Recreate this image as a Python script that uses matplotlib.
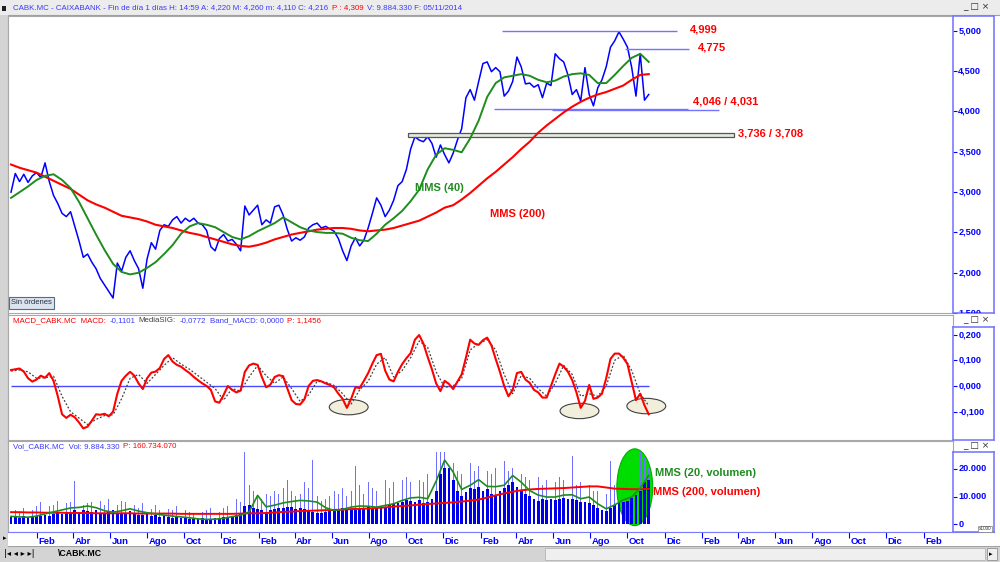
"""CaixaBank (CABK.MC) daily chart: price with MMS(40)/MMS(200), MACD and volume panels."""

import matplotlib
matplotlib.use("Agg")
import matplotlib.pyplot as plt
import matplotlib.dates as mdates
import matplotlib.transforms as mtransforms
from matplotlib.patches import Ellipse, Rectangle
import pandas as pd

plt.rcParams["font.family"] = ["Liberation Sans", "DejaVu Sans"]

LAST = "2014-11-05"

# weekly closes (EUR), Dec 2011 -> Nov 2014
price = [
    3.02, 3.25, 3.15, 3.24, 3.14, 3.22, 3.26, 3.20, 3.38, 3.15,
    2.98, 2.88, 2.76, 2.72, 2.78, 2.60, 2.42, 2.22, 2.26, 2.16,
    2.08, 1.96, 1.88, 1.80, 1.72, 2.15, 2.05, 2.22, 2.30, 2.18,
    2.08, 1.84, 2.20, 2.40, 2.32, 2.55, 2.62, 2.60, 2.68, 2.72,
    2.64, 2.70, 2.66, 2.70, 2.64, 2.62, 2.55, 2.35, 2.30, 2.45,
    2.50, 2.42, 2.44, 2.38, 2.30, 2.85, 2.74, 2.80, 2.86, 2.62,
    2.68, 2.64, 2.84, 2.86, 2.74, 2.56, 2.42, 2.46, 2.43, 2.47,
    2.58, 2.62, 2.64, 2.58, 2.60, 2.57, 2.54, 2.45, 2.30, 2.18,
    2.36, 2.46, 2.36, 2.43, 2.58, 2.76, 2.95, 2.86, 2.72, 2.80,
    2.92, 3.10, 3.15, 3.30, 3.55, 3.70, 3.66, 3.64, 3.70, 3.62,
    3.45, 3.60, 3.48, 3.38, 3.50, 3.66, 3.80, 4.18, 4.28, 4.15,
    4.38, 4.60, 4.62, 4.50, 4.55, 4.50, 4.20, 4.26, 4.38, 4.68,
    4.56, 4.35, 4.36, 4.31, 4.34, 4.18, 4.36, 4.33, 4.72, 4.66,
    4.62, 4.46, 4.22, 4.28, 4.14, 4.55, 4.22, 4.08, 4.30, 4.40,
    4.56, 4.80, 4.88, 4.99, 4.90, 4.80, 4.55, 4.20, 4.72, 4.15,
    4.22,
]
# moving averages, every two weeks
mms40 = [
    2.95, 3.02, 3.09, 3.17, 3.22, 3.24, 3.17, 3.07, 2.90, 2.70,
    2.50, 2.31, 2.14, 2.04, 2.01, 2.03, 2.09, 2.16, 2.26, 2.37,
    2.51, 2.60, 2.64, 2.62, 2.59, 2.53, 2.47, 2.44, 2.48, 2.54,
    2.59, 2.64, 2.71, 2.65, 2.59, 2.55, 2.53, 2.52, 2.52, 2.51,
    2.46, 2.43, 2.42, 2.51, 2.62, 2.70, 2.79, 2.91, 3.05, 3.30,
    3.48, 3.56, 3.54, 3.51, 3.68, 3.90, 4.19, 4.36, 4.43, 4.45,
    4.47, 4.45, 4.40, 4.37, 4.39, 4.44, 4.47, 4.48, 4.46, 4.36,
    4.36, 4.46, 4.57, 4.67, 4.72, 4.62,
]
mms200 = [
    3.36, 3.32, 3.29, 3.26, 3.21, 3.16, 3.11, 3.06, 2.99, 2.92,
    2.87, 2.83, 2.78, 2.73, 2.71, 2.69, 2.66, 2.62, 2.60, 2.58,
    2.55, 2.52, 2.50, 2.47, 2.44, 2.41, 2.38, 2.36, 2.35, 2.37,
    2.40, 2.44, 2.47, 2.50, 2.52, 2.54, 2.56, 2.57, 2.58, 2.58,
    2.57, 2.55, 2.54, 2.55, 2.56, 2.58, 2.61, 2.64, 2.67, 2.72,
    2.77, 2.83, 2.86, 2.93, 3.01, 3.10, 3.19, 3.27, 3.36, 3.45,
    3.55, 3.64, 3.75, 3.84, 3.92, 4.00, 4.07, 4.13, 4.18, 4.22,
    4.25, 4.29, 4.33, 4.40, 4.46, 4.47,
]
# support / resistance levels and their drawn extent
levels = [4.999, 4.775, 4.046, 4.031]
level_from = ["2014-03-09", "2014-09-27", "2014-02-24", "2014-05-29"]
level_to = ["2014-12-21", "2015-01-11", "2015-01-08", "2015-03-01"]
band = (3.708, 3.736)          # labelled support zone
band_box = (3.692, 3.752)      # as boxed on the chart
band_span = ("2013-10-05", "2015-03-26")

# MACD weekly, signal every two weeks
macd = [
    0.062, 0.065, 0.068, 0.056, 0.030, 0.017, 0.025, 0.040, 0.032, 0.050,
    0.020, -0.040, -0.110, -0.124, -0.112, -0.122, -0.142, -0.165, -0.158, -0.135,
    -0.110, -0.112, -0.108, -0.118, -0.100, -0.030, 0.020, 0.040, 0.055, 0.040,
    0.010, -0.012, 0.030, 0.052, 0.056, 0.070, 0.105, 0.120, 0.095, 0.082,
    0.075, 0.062, 0.050, 0.035, 0.022, 0.010, 0.000, -0.015, -0.060, -0.065,
    -0.035, 0.000, -0.015, -0.025, -0.018, 0.055, 0.080, 0.087, 0.082, 0.035,
    -0.005, 0.005, 0.035, 0.042, 0.038, -0.010, -0.055, -0.070, -0.072, -0.052,
    0.000, 0.020, 0.023, 0.018, 0.010, 0.004, -0.006, -0.030, -0.050, -0.085,
    -0.050, -0.005, -0.008, 0.020, 0.050, 0.087, 0.120, 0.125, 0.060, 0.025,
    0.018, 0.055, 0.085, 0.108, 0.128, 0.180, 0.198, 0.165, 0.113, 0.065,
    0.010, -0.020, 0.020, 0.008, -0.012, 0.017, 0.045, 0.110, 0.180, 0.165,
    0.160, 0.178, 0.188, 0.158, 0.105, 0.055, 0.000, -0.040, -0.015, 0.050,
    0.055, 0.025, 0.012, -0.015, -0.025, -0.045, -0.045, 0.000, 0.045, 0.087,
    0.075, 0.055, 0.023, -0.025, -0.085, -0.058, 0.004, -0.050, -0.045, -0.030,
    0.030, 0.105, 0.126, 0.126, 0.110, 0.085, 0.015, -0.055, -0.030, -0.075,
    -0.110,
]
media_sig = [
    0.058, 0.062, 0.055, 0.030, 0.032, 0.038, -0.040, -0.100, -0.125, -0.150,
    -0.130, -0.115, -0.112, -0.050, 0.030, 0.045, 0.010, 0.045, 0.080, 0.110,
    0.085, 0.065, 0.040, 0.015, -0.010, -0.055, -0.010, -0.020, 0.035, 0.080,
    0.040, 0.010, 0.035, -0.010, -0.060, -0.035, 0.018, 0.015, 0.002, -0.030,
    -0.070, -0.015, 0.018, 0.085, 0.110, 0.035, 0.060, 0.110, 0.175, 0.150,
    0.055, -0.005, 0.000, 0.030, 0.140, 0.165, 0.180, 0.140, 0.045, -0.030,
    0.040, 0.030, -0.010, -0.040, 0.010, 0.080, 0.045, -0.040, -0.030, -0.040,
    0.000, 0.100, 0.120, 0.060, -0.030, -0.077,
]
macd_marks = ["2013-06-29", "2014-07-14", "2014-11-01"]
macd_marks_y = [-0.082, -0.097, -0.078]

# volume (thousands of shares): typical weekly level and weekly peak day
vol_base = [
    2500, 2800, 2300, 3000, 2600, 2800, 3200, 2900, 3500, 3000,
    3800, 4200, 3800, 4500, 4000, 5000, 4600, 5200, 4800, 4400,
    5000, 4200, 3800, 4500, 5200, 4200, 3600, 4000, 4800, 3800,
    3500, 3400, 3800, 3000, 3300, 2800, 3000, 2600, 2400, 2800,
    2200, 2300, 2000, 2400, 1900, 2200, 1800, 2000, 2300, 2100,
    2600, 2800, 3200, 3400, 4000, 6500, 7000, 6000, 5400, 5000,
    4600, 5200, 5600, 6000, 5800, 6400, 6200, 5600, 6000, 5400,
    5000, 4600, 4200, 4000, 4400, 4800, 5000, 5400, 5800, 5200,
    5600, 6000, 5600, 5800, 6400, 6000, 5800, 6600, 6200, 6800,
    7200, 7600, 8200, 8800, 8400, 8000, 8600, 7800, 8200, 9000,
    12000, 18000, 20000, 20000, 16000, 12000, 10000, 11500, 13000, 12500,
    13500, 12000, 12500, 11000, 10500, 12000, 13000, 14000, 15000, 13500,
    12000, 11000, 10000, 9000, 8500, 9000, 8800, 9200, 8600, 9000,
    9500, 9000, 9200, 8800, 8000, 8200, 7800, 7000, 6000, 5000,
    4800, 5800, 6800, 7500, 8000, 8500, 9500, 10500, 12000, 15000,
    16000,
]
vol_peak = [
    4000, 5000, 4500, 6000, 5500, 5000, 6500, 8000, 7000, 6500,
    7000, 8500, 7000, 7500, 8000, 15700, 8000, 7000, 7500, 8000,
    9000, 8500, 7000, 9000, 9500, 7000, 8500, 8000, 6500, 7000,
    6000, 7500, 6000, 5500, 7000, 5000, 6000, 5500, 5000, 6500,
    4500, 5000, 4500, 4000, 5500, 4500, 5000, 6000, 5500, 4500,
    6000, 6500, 7500, 9000, 8000, 25800, 14000, 12000, 10000, 9000,
    11000, 10000, 12000, 11000, 13000, 16000, 12000, 10000, 11000, 15000,
    13000, 23000, 10000, 8500, 9000, 10000, 12000, 11000, 13000, 10000,
    12000, 21000, 14000, 11000, 15000, 13000, 12000, 14000, 16000, 13000,
    15000, 19900, 16000, 17000, 15000, 14000, 16000, 15000, 18000, 25800,
    25800, 25800, 25800, 25800, 22000, 19000, 18000, 20000, 22000, 19000,
    21000, 20000, 19000, 18000, 20000, 21000, 22800, 19000, 20000, 21000,
    18000, 17000, 16000, 15000, 17000, 14000, 16000, 18000, 15000, 17000,
    16000, 18000, 24600, 14000, 15000, 13000, 14000, 12000, 12000, 10000,
    11000, 22800, 14000, 23000, 16000, 18000, 20000, 22000, 25800, 24000,
    20000,
]
vol_mms20 = [
    2900, 2700, 2600, 3000, 3800, 4500, 5200, 5900, 6100, 6600,
    6000, 4900, 4400, 4900, 5600, 4800, 4200, 3800, 3300, 3000,
    2700, 2400, 2000, 1800, 1900, 2200, 2800, 3300, 4500, 10400,
    6300, 6900, 7700, 8200, 8600, 8400, 8000, 6000, 5000, 5400,
    6200, 6600, 6500, 6200, 6800, 7400, 8600, 9500, 9700, 9200,
    15500, 23000, 18700, 12500, 14000, 16000, 13600, 13500, 14000, 17500,
    15100, 12100, 10500, 9800, 9800, 10500, 10600, 9200, 9800, 7400,
    5600, 7000, 8800, 9800, 13000, 17500,
]
vol_mms200 = [
    4400, 4400, 4300, 4300, 4200, 4200, 4200, 4100, 4100, 4100,
    4000, 4000, 4000, 4000, 4000, 3900, 3900, 3900, 3900, 3900,
    3800, 3800, 3800, 3800, 3800, 3800, 3800, 3900, 4000, 4000,
    4100, 4300, 4500, 4600, 4800, 4900, 5000, 5100, 5200, 5300,
    5500, 5600, 5700, 5900, 6100, 6400, 6600, 6800, 7100, 7300,
    7500, 7700, 7900, 8200, 8500, 8900, 9600, 10400, 11100, 11700,
    12200, 12500, 12700, 12800, 12900, 13000, 13200, 13400, 13600, 13600,
    13200, 12800, 12700, 12600, 12600, 12700,
]
vol_mark = ("2014-10-13", 13300)

MESES = ["Ene", "Feb", "Mar", "Abr", "May", "Jun", "Jul", "Ago", "Sep", "Oct", "Nov", "Dic"]
price_ticks = [1.5, 2.0, 2.5, 3.0, 3.5, 4.0, 4.5, 5.0]
macd_ticks = [-0.1, 0.0, 0.1, 0.2]
vol_ticks = [0, 10000, 20000]

BLUE = "#0000ff"
LBLUE = "#3a3aff"
RED = "#ff0000"
GREEN = "#1e8c1e"

W, H = 1000, 562
fig = plt.figure(figsize=(10, 5.62), dpi=100, facecolor="#d4d4d4")


def rect(x0, y0, x1, y1):
    return [x0 / W, 1 - y1 / H, (x1 - x0) / W, (y1 - y0) / H]


def fx(x):
    return x / W


def fy(y):
    return 1 - y / H


def d2n(s):
    return mdates.date2num(pd.Timestamp(s).to_pydatetime())


def dates(n, step):
    return mdates.date2num(pd.date_range(end=LAST, periods=n, freq=step).to_pydatetime())


xw = dates(len(price), "7D")
xb = dates(len(mms40), "14D")
XL = (d2n("2011-12-16"), d2n("2016-03-20"))

# window chrome (behind the axes)
fig.add_artist(Rectangle((0, fy(15)), 1, 15 / H, transform=fig.transFigure, fc="#ececec",
                         ec="none", zorder=-2))
fig.add_artist(Rectangle((fx(8), fy(546)), 1, (546 - 15) / H, transform=fig.transFigure,
                         fc="white", ec="#a0a0a0", lw=0.8, zorder=-2))


def panel(box, ylim):
    ax = fig.add_axes(rect(*box))
    ax.set_xlim(*XL)
    ax.set_ylim(*ylim)
    ax.set_xticks([])
    ax.set_yticks([])
    for s in ax.spines.values():
        s.set_color("#a8a8a8")
        s.set_linewidth(0.8)
    return ax


def scale_box(box, ylim, ticks, labels):
    ax = fig.add_axes(rect(*box))
    ax.set_ylim(*ylim)
    ax.set_xticks([])
    ax.set_yticks(ticks)
    ax.tick_params(axis="y", direction="in", length=3, width=0.8, color=BLUE, labelleft=False)
    for s in ax.spines.values():
        s.set_color("#7a7aff")
        s.set_linewidth(1.2)
    tr = mtransforms.blended_transform_factory(ax.transAxes, ax.transData)
    for t, lab in zip(ticks, labels):
        ax.text(0.13, t, lab, transform=tr, color=BLUE, fontsize=6.6, fontweight="bold",
                va="center", ha="left", clip_on=True)
    return ax


def chain(x, y, parts, size=5.7):
    r = fig.canvas.get_renderer()
    for s, c in parts:
        t = fig.text(fx(x), fy(y), s, color=c, fontsize=size, va="center", ha="left")
        x += t.get_window_extent(renderer=r).width + 3.5


# ---- price panel
ax_p = panel((8, 16, 953, 313), (1.536, 5.184))
ax_p.plot(xb, mms200, color=RED, lw=1.5, zorder=3)
ax_p.plot(xb, mms40, color=GREEN, lw=1.4, zorder=3)
ax_p.plot(xw, price, color=BLUE, lw=1.1, zorder=2)
for v, a, b in zip(levels, level_from, level_to):
    ax_p.hlines(v, d2n(a), d2n(b), color="#7373ff", lw=1.0, zorder=2)
ax_p.add_patch(Rectangle((d2n(band_span[0]), band_box[0]), d2n(band_span[1]) - d2n(band_span[0]),
                         band_box[1] - band_box[0], fc="#e4eadc", ec="#555555", lw=0.9, zorder=2))
scale_box((953, 16, 994, 313), (1.536, 5.184), price_ticks,
          [f"{v:.3f}".replace(".", ",") for v in price_ticks])

lab = dict(color=RED, fontsize=8, fontweight="bold", va="center", ha="left")
fig.text(fx(690), fy(30), f"{levels[0]:.3f}".replace(".", ","), **lab)
fig.text(fx(698), fy(48), f"{levels[1]:.3f}".replace(".", ","), **lab)
fig.text(fx(693), fy(102), f"{levels[2]:.3f} / {levels[3]:.3f}".replace(".", ","), **lab)
fig.text(fx(738), fy(133), f"{band[1]:.3f} / {band[0]:.3f}".replace(".", ","), **lab)
fig.text(fx(415), fy(188), "MMS (40)", color=GREEN, fontsize=8, fontweight="bold", va="center")
fig.text(fx(490), fy(214), "MMS (200)", color=RED, fontsize=8, fontweight="bold", va="center")
fig.text(fx(11), fy(303), "Sin órdenes", fontsize=5.5, color="#203040", va="center",
         bbox=dict(boxstyle="square,pad=0.3", fc="#dce4ee", ec="#5a6a80", lw=0.8))

# ---- MACD panel
ax_m = panel((8, 315, 953, 440), (-0.210, 0.276))
ax_m.hlines(0, xw[0], xw[-1], color="#4a4aff", lw=1.0, zorder=2)
for d, v in zip(macd_marks, macd_marks_y):
    ax_m.add_patch(Ellipse((d2n(d), v), 64, 0.060, fc="#f1efdc", ec="#404040", lw=0.8, zorder=1))
ax_m.plot(xb, media_sig, color="#404040", lw=0.9, ls=(0, (1.5, 1.5)), zorder=3)
ax_m.plot(xw, macd, color=RED, lw=1.5, zorder=4)
scale_box((953, 327, 994, 440), (-0.210, 0.2296), macd_ticks,
          [f"{v:.3f}".replace(".", ",") for v in macd_ticks])

# ---- volume panel
ax_v = panel((8, 441, 953, 532), (-2680, 29800))
ax_v.add_patch(Ellipse((d2n(vol_mark[0]), vol_mark[1]), 59, 27400, fc="#00dd00", ec="#00b000",
                       lw=0.8, zorder=1))
ax_v.bar(xw, vol_peak, width=1.3, color="#7070ff", lw=0, zorder=2)
ax_v.bar(xw, vol_base, width=4.6, color="#0000e8", lw=0, zorder=2)
ax_v.plot(xb, vol_mms200, color=RED, lw=1.4, zorder=3)
ax_v.plot(xb, vol_mms20, color=GREEN, lw=1.2, zorder=4)
scale_box((953, 452, 994, 532), (-2680, 25900), vol_ticks,
          [f"{v:,}".replace(",", ".") for v in vol_ticks])
fig.text(fx(979), fy(529), "x1000", fontsize=3.4, color="#303030", va="center",
         bbox=dict(boxstyle="square,pad=0.15", fc="white", ec="#808080", lw=0.5))
fig.text(fx(655), fy(473), "MMS (20, volumen)", color=GREEN, fontsize=8, fontweight="bold", va="center")
fig.text(fx(653), fy(492), "MMS (200, volumen)", color=RED, fontsize=8, fontweight="bold", va="center")

# ---- month axis strip
ax_x = fig.add_axes(rect(8, 532, 994, 546))
ax_x.set_xlim(XL[0], XL[0] + (XL[1] - XL[0]) * (994 - 8) / (953 - 8))
ax_x.set_ylim(0, 1)
ticks = pd.date_range("2012-02-01", "2016-02-01", freq="2MS")
ax_x.set_xticks(mdates.date2num(ticks.to_pydatetime()))
ax_x.tick_params(axis="x", top=True, bottom=False, direction="in", length=4, width=0.8,
                 color=BLUE, labelbottom=False, labeltop=False)
ax_x.set_yticks([])
for s in ax_x.spines.values():
    s.set_visible(False)
ax_x.spines["top"].set_visible(True)
ax_x.spines["top"].set_color("#7a7aff")
off = mtransforms.offset_copy(ax_x.transData, fig=fig, x=1.5, y=0, units="dots")
for t in ticks:
    ax_x.text(mdates.date2num(t.to_pydatetime()), 0.35, MESES[t.month - 1], transform=off,
              color=BLUE, fontsize=6.8, fontweight="bold", va="center", ha="left")

# ---- header lines
chain(13, 8, [("CABK.MC - CAIXABANK - Fin de día 1 días H: 14:59 A: 4,220 M: 4,260 m: 4,110 C: 4,216", LBLUE),
              ("P : 4,309", RED), ("V: 9.884.330 F: 05/11/2014", LBLUE)])
chain(13, 321, [("MACD_CABK.MC  MACD:", RED), ("-0,1101", LBLUE), ("MediaSIG:", "#404040"),
                ("-0,0772", LBLUE), ("Band_MACD: 0,0000", LBLUE), ("P: 1,1456", RED)])
chain(13, 447, [("Vol_CABK.MC  Vol: 9.884.330", LBLUE), ("P: 160.734.070", RED)])
fig.add_artist(Rectangle((fx(2), fy(11)), 4 / W, 5 / H, transform=fig.transFigure, fc="#202020", ec="none"))
for y in (7, 320, 446):
    fig.text(fx(963), fy(y), "_ □ ×", fontsize=6.5, color="#303030", va="center",
             family=["DejaVu Sans"])

# ---- bottom tab bar
fig.text(fx(3), fy(538), "▸", fontsize=5, color="black", va="center", family=["DejaVu Sans"])
fig.text(fx(4), fy(554), "|◂ ◂ ▸ ▸|", fontsize=6, color="black", va="center", family=["DejaVu Sans"])
fig.text(fx(58), fy(554), "\\CABK.MC", fontsize=6.3, fontweight="bold", color="black", va="center")
fig.add_artist(Rectangle((fx(545), fy(560)), 440 / W, 12 / H, transform=fig.transFigure,
                         fc="#efefef", ec="#b4b4b4", lw=0.6))
fig.add_artist(Rectangle((fx(987), fy(560)), 10 / W, 12 / H, transform=fig.transFigure,
                         fc="#efefef", ec="#909090", lw=0.6))
fig.text(fx(989), fy(554), "▸", fontsize=5, color="black", va="center", family=["DejaVu Sans"])

fig.savefig("out.png", dpi=100, facecolor=fig.get_facecolor())
print("[ok] out.png")
